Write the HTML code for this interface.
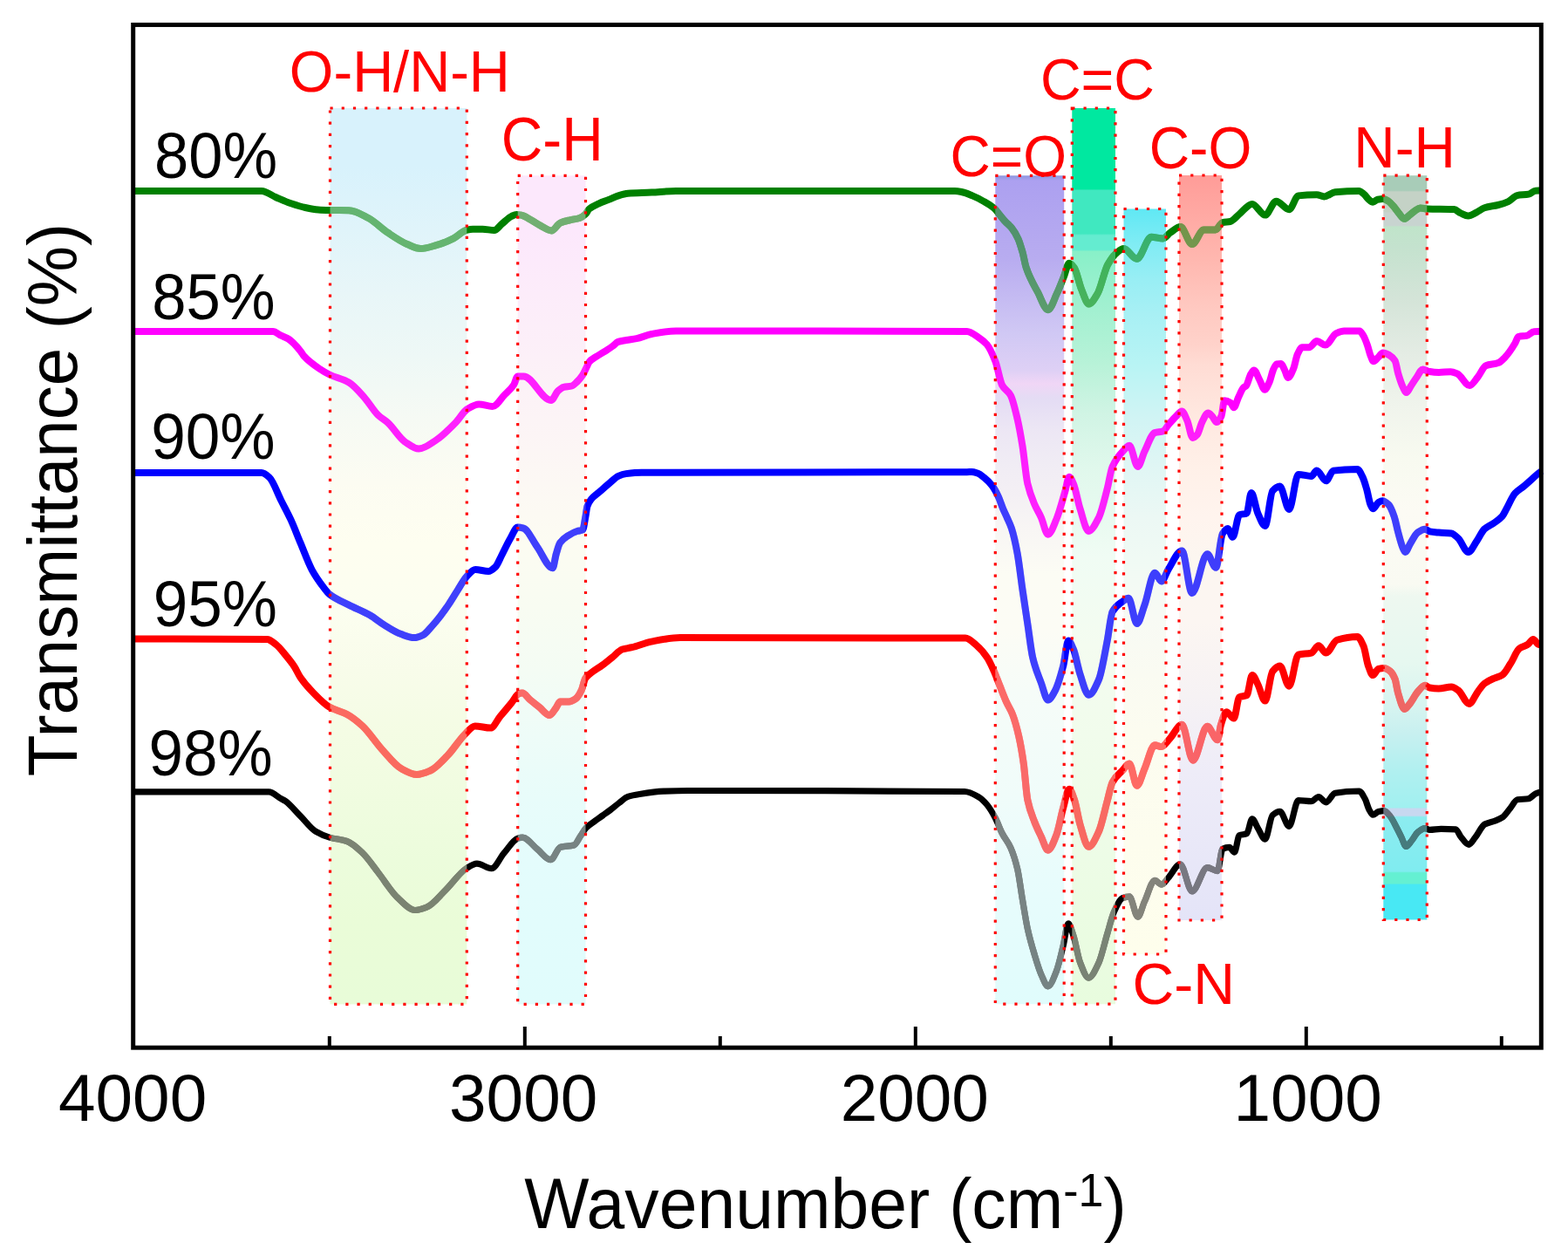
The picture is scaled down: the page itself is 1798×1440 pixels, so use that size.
<!DOCTYPE html><html><head><meta charset="utf-8"><title>FTIR spectra</title><style>html,body{margin:0;padding:0;background:#fff;overflow:hidden;}svg{display:block;}</style></head><body>
<svg width="1798" height="1440" viewBox="0 0 1798 1440" font-family='"Liberation Sans", Arial, sans-serif'>
<defs>
<linearGradient id="g_oh" x1="0" y1="0" x2="0" y2="1"><stop offset="0" stop-color="rgb(216,242,252)"/><stop offset="0.066" stop-color="rgb(216,242,252)"/><stop offset="0.136" stop-color="rgb(224,244,250)"/><stop offset="0.207" stop-color="rgb(232,246,248)"/><stop offset="0.277" stop-color="rgb(238,248,246)"/><stop offset="0.347" stop-color="rgb(246,250,244)"/><stop offset="0.417" stop-color="rgb(252,252,242)"/><stop offset="0.487" stop-color="rgb(254,254,240)"/><stop offset="0.558" stop-color="rgb(252,254,240)"/><stop offset="0.628" stop-color="rgb(248,252,234)"/><stop offset="0.698" stop-color="rgb(244,252,228)"/><stop offset="0.768" stop-color="rgb(240,252,224)"/><stop offset="0.838" stop-color="rgb(236,252,220)"/><stop offset="0.909" stop-color="rgb(234,252,216)"/><stop offset="1" stop-color="rgb(232,252,216)"/></linearGradient>
<linearGradient id="g_ch" x1="0" y1="0" x2="0" y2="1"><stop offset="0" stop-color="rgb(252,232,252)"/><stop offset="0.066" stop-color="rgb(252,232,252)"/><stop offset="0.143" stop-color="rgb(252,236,250)"/><stop offset="0.219" stop-color="rgb(252,240,248)"/><stop offset="0.295" stop-color="rgb(252,244,246)"/><stop offset="0.371" stop-color="rgb(252,248,244)"/><stop offset="0.446" stop-color="rgb(252,252,242)"/><stop offset="0.523" stop-color="rgb(248,252,242)"/><stop offset="0.599" stop-color="rgb(244,252,244)"/><stop offset="0.675" stop-color="rgb(238,252,248)"/><stop offset="0.751" stop-color="rgb(232,252,250)"/><stop offset="0.827" stop-color="rgb(228,252,252)"/><stop offset="0.903" stop-color="rgb(226,252,252)"/><stop offset="1" stop-color="rgb(224,252,252)"/></linearGradient>
<linearGradient id="g_co1" x1="0" y1="0" x2="0" y2="1"><stop offset="0" stop-color="rgb(140,150,222)"/><stop offset="0.006" stop-color="rgb(172,160,240)"/><stop offset="0.1" stop-color="rgb(184,172,240)"/><stop offset="0.19" stop-color="rgb(208,200,244)"/><stop offset="0.235" stop-color="rgb(222,208,245)"/><stop offset="0.251" stop-color="rgb(240,214,246)"/><stop offset="0.269" stop-color="rgb(228,220,244)"/><stop offset="0.305" stop-color="rgb(236,230,244)"/><stop offset="0.346" stop-color="rgb(240,236,244)"/><stop offset="0.387" stop-color="rgb(244,240,244)"/><stop offset="0.428" stop-color="rgb(248,246,244)"/><stop offset="0.48" stop-color="rgb(252,252,244)"/><stop offset="0.55" stop-color="rgb(252,252,245)"/><stop offset="0.62" stop-color="rgb(246,252,248)"/><stop offset="0.75" stop-color="rgb(240,252,250)"/><stop offset="0.85" stop-color="rgb(232,252,252)"/><stop offset="1" stop-color="rgb(224,252,252)"/></linearGradient>
<linearGradient id="g_cc" x1="0" y1="0" x2="0" y2="1"><stop offset="0" stop-color="rgb(0,232,160)"/><stop offset="0.09" stop-color="rgb(0,232,160)"/><stop offset="0.092" stop-color="rgb(64,232,192)"/><stop offset="0.14" stop-color="rgb(64,232,192)"/><stop offset="0.142" stop-color="rgb(100,236,208)"/><stop offset="0.158" stop-color="rgb(100,236,208)"/><stop offset="0.16" stop-color="rgb(136,240,200)"/><stop offset="0.218" stop-color="rgb(160,240,208)"/><stop offset="0.286" stop-color="rgb(184,242,216)"/><stop offset="0.34" stop-color="rgb(208,244,228)"/><stop offset="0.4" stop-color="rgb(224,248,236)"/><stop offset="0.457" stop-color="rgb(232,250,240)"/><stop offset="0.5" stop-color="rgb(240,252,244)"/><stop offset="0.6" stop-color="rgb(244,252,240)"/><stop offset="0.8" stop-color="rgb(238,252,232)"/><stop offset="1" stop-color="rgb(232,252,222)"/></linearGradient>
<linearGradient id="g_cn" x1="0" y1="0" x2="0" y2="1"><stop offset="0" stop-color="rgb(96,232,244)"/><stop offset="0.047" stop-color="rgb(128,236,244)"/><stop offset="0.094" stop-color="rgb(152,238,244)"/><stop offset="0.141" stop-color="rgb(168,240,244)"/><stop offset="0.209" stop-color="rgb(184,244,244)"/><stop offset="0.278" stop-color="rgb(208,244,244)"/><stop offset="0.346" stop-color="rgb(224,246,244)"/><stop offset="0.414" stop-color="rgb(236,248,244)"/><stop offset="0.469" stop-color="rgb(240,250,244)"/><stop offset="0.55" stop-color="rgb(248,250,244)"/><stop offset="0.7" stop-color="rgb(252,252,240)"/><stop offset="1" stop-color="rgb(254,254,236)"/></linearGradient>
<linearGradient id="g_co2" x1="0" y1="0" x2="0" y2="1"><stop offset="0" stop-color="rgb(255,156,152)"/><stop offset="0.057" stop-color="rgb(255,170,164)"/><stop offset="0.116" stop-color="rgb(255,184,176)"/><stop offset="0.174" stop-color="rgb(255,200,192)"/><stop offset="0.227" stop-color="rgb(255,210,202)"/><stop offset="0.254" stop-color="rgb(255,220,212)"/><stop offset="0.323" stop-color="rgb(255,232,224)"/><stop offset="0.391" stop-color="rgb(255,240,232)"/><stop offset="0.459" stop-color="rgb(255,244,238)"/><stop offset="0.514" stop-color="rgb(252,246,240)"/><stop offset="0.6" stop-color="rgb(252,246,242)"/><stop offset="0.7" stop-color="rgb(246,242,244)"/><stop offset="0.8" stop-color="rgb(238,236,248)"/><stop offset="1" stop-color="rgb(228,228,248)"/></linearGradient>
<linearGradient id="g_nh" x1="0" y1="0" x2="0" y2="1"><stop offset="0" stop-color="rgb(168,204,184)"/><stop offset="0.02" stop-color="rgb(168,204,184)"/><stop offset="0.022" stop-color="rgb(196,210,198)"/><stop offset="0.049" stop-color="rgb(196,210,198)"/><stop offset="0.05" stop-color="rgb(200,212,208)"/><stop offset="0.067" stop-color="rgb(200,212,208)"/><stop offset="0.069" stop-color="rgb(192,228,202)"/><stop offset="0.095" stop-color="rgb(196,226,206)"/><stop offset="0.166" stop-color="rgb(212,228,216)"/><stop offset="0.238" stop-color="rgb(228,236,228)"/><stop offset="0.31" stop-color="rgb(240,244,236)"/><stop offset="0.381" stop-color="rgb(248,250,240)"/><stop offset="0.453" stop-color="rgb(252,251,244)"/><stop offset="0.55" stop-color="rgb(249,250,242)"/><stop offset="0.565" stop-color="rgb(238,248,240)"/><stop offset="0.655" stop-color="rgb(230,248,240)"/><stop offset="0.714" stop-color="rgb(214,244,240)"/><stop offset="0.749" stop-color="rgb(200,240,240)"/><stop offset="0.801" stop-color="rgb(176,240,240)"/><stop offset="0.839" stop-color="rgb(164,240,240)"/><stop offset="0.849" stop-color="rgb(160,240,240)"/><stop offset="0.851" stop-color="rgb(200,216,240)"/><stop offset="0.86" stop-color="rgb(200,216,240)"/><stop offset="0.862" stop-color="rgb(140,236,240)"/><stop offset="0.935" stop-color="rgb(128,236,240)"/><stop offset="0.937" stop-color="rgb(100,240,210)"/><stop offset="0.951" stop-color="rgb(100,240,210)"/><stop offset="0.953" stop-color="rgb(72,232,244)"/><stop offset="1" stop-color="rgb(72,232,244)"/></linearGradient>
</defs>
<rect width="1798" height="1440" fill="#fff"/>
<rect x="378.5" y="124.0" width="156.8" height="1027.4" fill="url(#g_oh)"/>
<rect x="593.7" y="201.3" width="77.8" height="950.1" fill="url(#g_ch)"/>
<rect x="1141.3" y="201.3" width="78.9" height="949.9" fill="url(#g_co1)"/>
<rect x="1229.3" y="124.0" width="49.7" height="1027.2" fill="url(#g_cc)"/>
<rect x="1288.5" y="239.5" width="48.5" height="854.5" fill="url(#g_cn)"/>
<rect x="1352.0" y="201.0" width="49.0" height="854.0" fill="url(#g_co2)"/>
<rect x="1586.3" y="201.2" width="50.0" height="853.3" fill="url(#g_nh)"/>
<defs>
<path id="c_green" d="M153.0,219.0 C202.0,219.0 251.0,219.0 300.0,219.0 C305.3,219.0 310.7,223.7 316.0,226.0 C321.7,228.4 327.3,231.1 333.0,233.0 C338.7,234.9 344.3,236.8 350.0,238.0 C355.0,239.1 360.0,240.2 365.0,240.5 C369.3,240.8 373.7,240.9 378.0,241.0 C385.3,241.1 392.7,241.1 400.0,241.2 C407.5,241.3 414.9,246.1 422.4,250.0 C429.8,253.8 437.2,261.8 444.6,266.7 C452.0,271.6 459.5,276.9 466.9,280.0 C472.1,282.1 477.2,285.0 482.4,285.0 C488.3,285.0 494.3,282.8 500.2,281.2 C506.8,279.4 513.4,276.7 520.0,273.4 C524.8,271.0 529.7,265.1 534.5,264.0 C537.1,263.4 539.6,262.8 542.2,262.8 C545.9,262.8 549.7,262.8 553.4,262.8 C557.8,262.8 562.3,264.0 566.7,264.0 C569.7,264.0 572.6,259.1 575.6,256.7 C579.3,253.7 583.0,249.4 586.7,247.8 C588.6,247.0 590.4,246.1 592.3,246.1 C594.2,246.1 596.0,246.4 597.9,246.7 C601.6,247.3 605.3,250.3 609.0,252.3 C612.7,254.3 616.4,257.0 620.1,258.9 C624.2,261.0 628.2,264.5 632.3,264.5 C635.7,264.5 639.0,257.1 642.4,255.6 C646.1,253.9 649.8,253.2 653.5,252.3 C657.2,251.4 660.9,251.2 664.6,250.0 C666.8,249.3 669.1,247.6 671.3,245.6 C672.8,244.3 674.2,240.7 675.7,239.5 C679.4,236.4 683.1,235.0 686.8,233.3 C690.5,231.6 694.3,230.4 698.0,228.9 C701.7,227.4 705.4,225.5 709.1,224.4 C712.7,223.3 716.4,222.1 720.0,221.8 C729.1,221.1 738.2,221.1 747.3,220.6 C756.6,220.1 765.8,219.0 775.1,219.0 C881.7,219.0 988.4,219.0 1095.0,219.0 C1097.5,219.0 1100.0,219.5 1102.5,220.0 C1106.7,220.8 1110.8,222.7 1115.0,224.4 C1119.2,226.1 1123.3,228.2 1127.5,230.6 C1131.7,233.0 1135.8,235.2 1140.0,238.8 C1142.1,240.6 1144.2,243.8 1146.3,246.3 C1148.4,248.8 1150.4,251.5 1152.5,253.8 C1155.0,256.5 1157.5,258.2 1160.0,261.3 C1162.5,264.4 1165.0,268.3 1167.5,273.8 C1169.2,277.5 1170.8,283.1 1172.5,289.0 C1173.9,294.0 1175.3,302.6 1176.7,306.8 C1181.2,320.2 1185.6,326.8 1190.1,335.2 C1194.0,342.6 1197.9,355.2 1201.8,355.2 C1205.1,355.2 1208.5,343.8 1211.8,336.8 C1214.6,331.0 1217.3,323.7 1220.1,316.8 C1222.1,311.9 1224.0,301.8 1226.0,301.8 C1227.9,301.8 1229.9,304.3 1231.8,306.8 C1234.6,310.4 1237.3,325.2 1240.1,331.8 C1242.9,338.5 1245.7,348.5 1248.5,348.5 C1251.8,348.5 1255.2,342.3 1258.5,336.8 C1262.4,330.4 1266.3,310.5 1270.2,303.5 C1273.5,297.5 1276.9,292.8 1280.2,290.1 C1283.0,287.8 1285.7,285.1 1288.5,285.1 C1293.5,285.1 1298.5,296.8 1303.5,296.8 C1309.1,296.8 1314.6,271.8 1320.2,271.8 C1324.7,271.8 1329.1,273.4 1333.6,273.4 C1336.4,273.4 1339.1,268.7 1341.9,266.8 C1345.8,264.2 1349.7,260.1 1353.6,260.1 C1358.1,260.1 1362.5,280.1 1367.0,280.1 C1371.4,280.1 1375.9,263.4 1380.3,263.4 C1384.8,263.4 1389.2,263.4 1393.7,263.4 C1396.5,263.4 1399.2,255.7 1402.0,255.1 C1404.9,254.4 1407.7,254.6 1410.6,254.0 C1414.1,253.2 1417.6,248.3 1421.1,245.5 C1426.0,241.6 1431.0,233.9 1435.9,233.9 C1440.8,233.9 1445.8,246.6 1450.7,246.6 C1454.9,246.6 1459.2,230.7 1463.4,230.7 C1468.3,230.7 1473.3,240.2 1478.2,240.2 C1481.7,240.2 1485.3,224.8 1488.8,224.4 C1495.8,223.6 1502.9,223.3 1509.9,223.3 C1512.7,223.3 1515.6,225.4 1518.4,225.4 C1522.6,225.4 1526.8,220.6 1531.0,220.2 C1540.1,219.4 1549.2,219.0 1558.3,219.0 C1560.4,219.0 1562.4,221.3 1564.5,223.0 C1566.1,224.4 1567.8,227.4 1569.4,228.7 C1571.0,230.0 1572.7,231.8 1574.3,231.8 C1576.1,231.8 1578.0,229.0 1579.8,228.7 C1581.8,228.4 1583.9,228.1 1585.9,228.1 C1587.9,228.1 1590.0,229.4 1592.0,230.6 C1594.0,231.8 1596.1,234.4 1598.1,236.7 C1600.1,239.0 1602.2,242.3 1604.2,244.6 C1606.2,246.9 1608.3,250.8 1610.3,250.8 C1612.4,250.8 1614.4,248.0 1616.5,246.5 C1618.5,245.0 1620.6,242.9 1622.6,241.6 C1624.6,240.3 1626.7,238.5 1628.7,238.5 C1631.4,238.5 1634.0,239.4 1636.7,239.5 C1646.9,239.9 1657.1,239.6 1667.3,240.1 C1669.9,240.2 1672.4,243.3 1675.0,244.4 C1677.9,245.7 1680.7,247.5 1683.6,247.5 C1686.7,247.5 1689.8,245.1 1692.9,243.6 C1696.0,242.1 1699.2,239.2 1702.3,238.2 C1707.5,236.6 1712.7,236.3 1717.9,235.0 C1721.8,234.0 1725.6,232.9 1729.5,231.1 C1732.9,229.6 1736.3,224.8 1739.7,224.1 C1744.1,223.2 1748.5,223.5 1752.9,222.6 C1755.5,222.1 1758.1,218.8 1760.7,218.7 C1763.1,218.6 1765.6,218.6 1768.0,218.5"/>
<path id="c_magenta" d="M153.0,380.0 C206.3,380.0 259.7,380.0 313.0,380.0 C316.1,380.0 319.1,383.2 322.2,384.7 C325.0,386.0 327.8,386.8 330.6,388.5 C335.2,391.3 339.9,396.7 344.5,402.4 C345.9,404.1 347.2,406.8 348.6,408.3 C354.6,415.0 360.7,419.0 366.7,423.0 C370.4,425.5 374.2,427.7 377.9,429.5 C385.3,433.1 392.7,434.2 400.1,438.5 C406.0,441.9 412.0,449.2 417.9,455.8 C423.1,461.6 428.3,470.9 433.5,475.9 C437.2,479.4 440.9,481.2 444.6,484.5 C451.3,490.5 457.9,502.2 464.6,506.7 C469.8,510.2 475.0,514.5 480.2,514.5 C486.9,514.5 493.5,508.8 500.2,504.5 C507.6,499.8 515.1,492.1 522.5,484.5 C526.9,480.0 531.4,471.7 535.8,469.0 C540.3,466.3 544.7,463.4 549.2,463.4 C554.4,463.4 559.5,466.0 564.7,466.0 C569.2,466.0 573.6,457.9 578.1,453.3 C581.8,449.5 585.5,446.7 589.2,441.1 C590.7,438.8 592.2,431.4 593.7,431.4 C595.9,431.4 598.1,431.4 600.3,431.4 C610.8,431.4 621.4,459.0 631.9,459.0 C634.6,459.0 637.3,450.4 640.0,448.0 C642.1,446.1 644.2,444.3 646.3,443.8 C649.4,443.1 652.5,443.3 655.6,442.5 C657.7,442.0 659.8,439.5 661.9,437.5 C664.0,435.5 666.0,433.1 668.1,430.0 C669.8,427.5 671.4,423.3 673.1,420.0 C673.9,418.3 674.8,416.0 675.6,415.0 C678.3,411.7 681.1,410.7 683.8,408.8 C686.9,406.7 690.0,405.1 693.1,403.1 C696.2,401.1 699.4,399.2 702.5,396.9 C704.6,395.4 706.7,392.6 708.8,391.9 C711.9,390.9 715.0,390.6 718.1,390.0 C722.1,389.3 726.0,388.9 730.0,388.1 C735.8,386.9 741.5,384.1 747.3,383.0 C756.6,381.3 765.8,379.5 775.1,379.5 C886.3,379.5 997.6,379.5 1108.8,380.0 C1113.4,380.0 1118.1,384.3 1122.7,387.4 C1125.7,389.4 1128.7,391.5 1131.7,395.0 C1134.9,398.8 1138.2,406.1 1141.4,414.4 C1144.0,421.1 1146.6,437.0 1149.2,441.7 C1152.4,447.6 1155.7,447.4 1158.9,453.3 C1161.5,458.0 1164.1,469.5 1166.7,480.6 C1168.6,488.9 1170.6,499.7 1172.5,511.7 C1174.4,523.7 1176.4,546.0 1178.3,554.4 C1180.9,565.7 1183.5,571.6 1186.1,577.8 C1188.7,584.0 1191.3,587.5 1193.9,593.3 C1196.5,599.1 1199.1,612.8 1201.7,612.8 C1204.9,612.8 1208.2,602.8 1211.4,595.3 C1214.6,587.8 1217.9,575.2 1221.1,564.2 C1222.7,558.6 1224.4,546.7 1226.0,546.7 C1227.6,546.7 1229.2,550.9 1230.8,554.4 C1233.4,560.1 1236.0,575.6 1238.6,583.6 C1241.8,593.6 1245.1,608.9 1248.3,608.9 C1252.2,608.9 1256.1,600.9 1260.0,593.3 C1263.2,587.0 1266.5,572.7 1269.7,560.3 C1271.7,552.8 1273.6,539.5 1275.6,535.0 C1280.1,524.6 1284.7,520.3 1289.2,515.6 C1291.1,513.6 1293.1,510.7 1295.0,510.7 C1298.2,510.7 1301.5,535.0 1304.7,535.0 C1307.3,535.0 1309.9,522.8 1312.5,517.5 C1316.4,509.6 1320.3,497.4 1324.2,496.1 C1327.4,495.0 1330.7,495.4 1333.9,494.2 C1335.9,493.5 1338.0,489.1 1340.0,486.7 C1343.0,483.3 1345.9,479.9 1348.9,477.0 C1351.0,475.0 1353.0,471.6 1355.1,471.6 C1357.2,471.6 1359.3,477.7 1361.4,482.3 C1363.5,486.9 1365.5,501.9 1367.6,501.9 C1369.4,501.9 1371.1,500.2 1372.9,498.3 C1374.7,496.4 1376.5,487.6 1378.3,484.1 C1380.7,479.5 1383.0,473.4 1385.4,473.4 C1386.9,473.4 1388.3,475.5 1389.8,477.0 C1391.6,478.8 1393.4,484.1 1395.2,484.1 C1397.0,484.1 1398.7,480.9 1400.5,477.0 C1401.7,474.4 1402.9,459.2 1404.1,459.2 C1406.5,459.2 1408.8,460.3 1411.2,461.8 C1412.4,462.6 1413.6,467.2 1414.8,467.2 C1416.6,467.2 1418.3,459.3 1420.1,455.6 C1421.9,451.9 1423.6,446.8 1425.4,444.9 C1426.6,443.6 1427.8,443.5 1429.0,442.2 C1430.8,440.2 1432.5,431.8 1434.3,428.9 C1435.5,426.9 1436.7,424.4 1437.9,424.4 C1440.0,424.4 1442.0,431.4 1444.1,435.1 C1446.2,438.8 1448.2,446.7 1450.3,446.7 C1452.1,446.7 1453.9,441.8 1455.7,437.8 C1457.1,434.6 1458.6,427.1 1460.0,424.0 C1461.3,421.1 1462.7,417.8 1464.0,417.5 C1465.7,417.2 1467.3,417.0 1469.0,417.0 C1470.3,417.0 1471.7,421.4 1473.0,424.0 C1474.4,426.7 1475.7,433.0 1477.1,433.0 C1479.2,433.0 1481.2,427.2 1483.3,422.3 C1484.8,418.7 1486.3,409.5 1487.8,406.3 C1489.6,402.5 1491.3,398.3 1493.1,398.3 C1495.8,398.3 1498.4,398.3 1501.1,398.3 C1504.1,398.3 1507.0,391.1 1510.0,391.1 C1513.3,391.1 1516.5,395.6 1519.8,395.6 C1524.0,395.6 1528.1,384.1 1532.3,382.2 C1535.3,380.9 1538.2,379.6 1541.2,379.6 C1547.1,379.6 1553.1,379.6 1559.0,379.6 C1560.5,379.6 1561.9,382.6 1563.4,384.9 C1564.9,387.3 1566.4,391.4 1567.9,395.6 C1569.1,398.9 1570.2,404.3 1571.4,407.2 C1572.6,410.2 1573.8,414.3 1575.0,414.3 C1576.8,414.3 1578.5,411.4 1580.3,409.8 C1582.1,408.2 1583.9,404.5 1585.7,404.5 C1588.3,404.5 1590.9,406.0 1593.5,407.4 C1595.5,408.5 1597.6,410.1 1599.6,413.5 C1600.9,415.6 1602.1,424.6 1603.4,428.8 C1605.2,434.8 1607.0,440.4 1608.8,444.0 C1610.1,446.5 1611.3,450.1 1612.6,450.1 C1614.4,450.1 1616.1,445.1 1617.9,442.5 C1619.9,439.5 1622.0,436.1 1624.0,433.3 C1626.6,429.7 1629.1,423.4 1631.7,423.4 C1633.7,423.4 1635.8,425.3 1637.8,425.7 C1641.9,426.4 1645.9,427.0 1650.0,427.0 C1654.5,427.0 1658.9,426.2 1663.4,426.2 C1666.0,426.2 1668.5,427.4 1671.1,428.5 C1675.8,430.5 1680.5,442.0 1685.2,442.0 C1688.3,442.0 1691.4,436.1 1694.5,432.4 C1697.6,428.7 1700.7,420.4 1703.8,419.2 C1708.5,417.3 1713.2,417.8 1717.9,416.1 C1720.5,415.2 1723.0,412.4 1725.6,409.8 C1729.5,405.8 1733.4,400.0 1737.3,393.5 C1738.6,391.3 1739.9,386.3 1741.2,386.0 C1744.3,385.2 1747.5,385.5 1750.6,384.9 C1753.4,384.3 1756.3,380.3 1759.1,380.2 C1762.1,380.1 1765.0,380.1 1768.0,380.0"/>
<path id="c_blue" d="M153.0,542.0 C202.0,542.0 251.0,542.0 300.0,542.0 C303.0,542.0 305.9,544.7 308.9,547.4 C313.3,551.4 317.8,564.8 322.2,573.5 C325.9,580.9 329.7,587.6 333.4,595.7 C337.1,603.7 340.8,613.6 344.5,622.4 C348.9,632.9 353.4,645.5 357.8,653.6 C362.3,661.8 366.7,667.8 371.2,673.6 C373.4,676.5 375.7,679.6 377.9,681.4 C385.3,687.3 392.7,689.8 400.1,693.6 C408.3,697.8 416.4,700.8 424.6,705.5 C429.7,708.5 434.9,712.9 440.0,716.1 C446.7,720.2 453.3,724.7 460.0,727.1 C465.0,728.9 470.0,731.1 475.0,731.1 C478.3,731.1 481.7,729.6 485.0,728.1 C488.4,726.6 491.7,721.8 495.1,718.1 C498.4,714.5 501.8,710.4 505.1,706.1 C508.4,701.8 511.8,697.1 515.1,692.1 C518.4,687.1 521.8,681.3 525.1,676.1 C528.4,670.9 531.8,664.5 535.1,661.0 C538.4,657.5 541.8,653.0 545.1,653.0 C550.1,653.0 555.1,655.0 560.1,655.0 C562.8,655.0 565.4,652.5 568.1,650.0 C570.4,647.8 572.8,641.4 575.1,637.0 C578.3,630.8 581.6,623.5 584.8,618.0 C587.8,613.0 590.7,604.6 593.7,604.6 C595.9,604.6 598.1,605.1 600.3,605.7 C605.5,607.1 610.7,619.8 615.9,626.9 C621.8,635.0 627.8,651.3 633.7,651.3 C635.1,651.3 636.4,639.6 637.8,635.0 C639.3,630.1 640.7,624.4 642.2,622.3 C645.2,618.0 648.1,616.2 651.1,614.3 C654.7,612.0 658.2,610.1 661.8,609.0 C663.9,608.3 666.0,608.5 668.1,607.5 C669.3,606.9 670.4,597.4 671.6,591.2 C672.2,588.0 672.8,582.3 673.4,580.5 C674.9,576.1 676.3,574.3 677.8,572.5 C680.8,568.8 683.7,567.1 686.7,564.5 C691.2,560.6 695.6,556.6 700.1,552.9 C703.1,550.4 706.0,547.1 709.0,545.8 C712.0,544.5 714.9,543.5 717.9,543.1 C723.8,542.4 729.8,541.8 735.7,541.8 C860.1,541.2 984.4,541.7 1108.8,541.2 C1110.6,541.2 1112.4,541.0 1114.2,541.0 C1116.5,541.0 1118.7,541.8 1121.0,542.5 C1123.5,543.3 1126.1,545.6 1128.6,547.7 C1131.6,550.1 1134.6,552.9 1137.6,556.8 C1140.0,559.9 1142.4,564.3 1144.8,569.4 C1146.5,573.1 1148.3,578.9 1150.0,583.0 C1151.7,587.0 1153.3,590.2 1155.0,594.0 C1156.7,597.8 1158.3,600.9 1160.0,606.0 C1162.2,612.8 1164.5,622.9 1166.7,635.0 C1168.6,645.5 1170.6,662.8 1172.5,676.1 C1174.4,689.4 1176.4,702.1 1178.3,715.0 C1180.3,728.1 1182.2,745.5 1184.2,753.9 C1187.4,767.7 1190.7,774.2 1193.9,783.0 C1196.5,790.1 1199.1,802.5 1201.7,802.5 C1204.3,802.5 1206.8,797.3 1209.4,792.8 C1212.7,787.1 1215.9,776.1 1219.2,763.6 C1221.1,756.2 1223.1,734.4 1225.0,734.4 C1226.9,734.4 1228.9,739.8 1230.8,744.2 C1233.4,750.1 1236.0,765.6 1238.6,773.3 C1241.8,782.8 1245.1,796.7 1248.3,796.7 C1252.2,796.7 1256.1,788.2 1260.0,779.2 C1263.2,771.8 1266.5,750.9 1269.7,734.4 C1271.7,724.4 1273.6,705.0 1275.6,701.4 C1279.5,694.3 1283.3,692.5 1287.2,689.7 C1289.5,688.1 1291.7,685.8 1294.0,685.8 C1297.2,685.8 1300.5,715.0 1303.7,715.0 C1306.6,715.0 1309.6,701.6 1312.5,693.6 C1316.4,683.0 1320.3,656.7 1324.2,656.7 C1326.8,656.7 1329.3,666.4 1331.9,666.4 C1334.5,666.4 1337.1,656.8 1339.7,652.8 C1344.9,644.7 1350.1,631.4 1355.3,631.4 C1359.2,631.4 1363.0,680.0 1366.9,680.0 C1372.7,680.0 1378.6,635.3 1384.4,635.3 C1387.7,635.3 1390.9,650.8 1394.2,650.8 C1396.8,650.8 1399.3,616.0 1401.9,611.9 C1403.9,608.8 1405.8,606.1 1407.8,606.1 C1409.7,606.1 1411.7,615.8 1413.6,615.8 C1416.1,615.8 1418.6,591.6 1421.1,590.4 C1423.9,589.1 1426.8,589.7 1429.6,588.3 C1431.4,587.4 1433.1,565.0 1434.9,565.0 C1437.4,565.0 1439.8,582.7 1442.3,588.3 C1445.1,594.6 1447.9,603.0 1450.7,603.0 C1453.5,603.0 1456.4,566.0 1459.2,562.9 C1462.0,559.8 1464.8,557.6 1467.6,557.6 C1471.1,557.6 1474.7,584.0 1478.2,584.0 C1481.7,584.0 1485.3,543.9 1488.8,543.9 C1493.7,543.9 1498.7,546.0 1503.6,546.0 C1505.7,546.0 1507.8,539.6 1509.9,539.6 C1513.4,539.6 1517.0,551.3 1520.5,551.3 C1523.3,551.3 1526.1,540.0 1528.9,539.6 C1538.1,538.4 1547.2,538.0 1556.4,538.0 C1558.5,538.0 1560.5,542.9 1562.6,547.1 C1564.1,550.1 1565.6,555.5 1567.1,560.7 C1568.6,565.9 1570.1,575.3 1571.6,578.7 C1572.5,580.7 1573.4,583.2 1574.3,583.2 C1576.4,583.2 1578.6,577.2 1580.7,576.0 C1582.2,575.1 1583.7,574.2 1585.2,574.2 C1587.6,574.2 1590.0,576.3 1592.4,578.7 C1594.5,580.8 1596.6,586.3 1598.7,592.3 C1600.2,596.6 1601.7,604.9 1603.2,610.3 C1605.0,616.9 1606.9,624.5 1608.7,628.4 C1609.6,630.3 1610.5,632.9 1611.4,632.9 C1613.2,632.9 1615.0,626.8 1616.8,623.9 C1619.8,619.1 1622.8,612.3 1625.8,610.3 C1628.5,608.5 1631.3,606.7 1634.0,606.7 C1635.8,606.7 1637.6,609.0 1639.4,609.4 C1642.8,610.1 1646.3,610.3 1649.7,610.6 C1654.6,611.0 1659.4,610.9 1664.3,611.4 C1666.9,611.7 1669.5,614.7 1672.1,617.2 C1676.0,620.8 1679.8,633.0 1683.7,633.0 C1687.0,633.0 1690.2,624.8 1693.5,620.1 C1696.4,615.9 1699.3,609.2 1702.2,606.5 C1705.8,603.2 1709.3,602.2 1712.9,599.7 C1716.1,597.4 1719.4,595.6 1722.6,591.9 C1724.2,590.0 1725.9,586.1 1727.5,583.2 C1730.7,577.4 1734.0,569.3 1737.2,565.7 C1740.4,562.1 1743.7,560.6 1746.9,557.9 C1750.2,555.1 1753.4,552.1 1756.7,549.2 C1759.3,546.9 1761.8,544.3 1764.4,542.4 C1765.6,541.5 1766.8,540.8 1768.0,540.0"/>
<path id="c_red" d="M153.0,732.5 C204.1,732.6 255.2,732.5 306.3,732.9 C309.8,732.9 313.2,736.5 316.7,739.2 C320.0,741.8 323.4,746.1 326.7,750.1 C330.3,754.4 333.9,758.7 337.5,764.2 C339.8,767.8 342.2,773.4 344.5,776.8 C349.1,783.6 353.7,788.6 358.3,793.3 C364.7,799.9 371.1,806.8 377.5,810.5 C384.3,814.4 391.1,815.3 397.9,819.0 C403.8,822.2 409.8,827.0 415.7,832.4 C423.1,839.2 430.5,851.0 437.9,859.1 C445.3,867.2 452.8,877.3 460.2,881.3 C466.1,884.5 472.1,888.0 478.0,888.0 C483.2,888.0 488.3,885.7 493.5,883.5 C500.2,880.6 506.9,872.6 513.6,865.7 C520.3,858.9 526.9,847.6 533.6,841.3 C537.3,837.8 541.0,832.4 544.7,832.4 C550.6,832.4 556.6,834.6 562.5,834.6 C566.2,834.6 569.9,825.7 573.6,821.3 C578.0,816.1 582.3,811.0 586.7,805.6 C589.3,802.4 591.9,796.6 594.5,795.6 C596.0,795.0 597.4,794.5 598.9,794.5 C601.9,794.5 604.8,799.8 607.8,802.3 C611.5,805.4 615.2,808.2 618.9,811.2 C622.6,814.2 626.4,820.1 630.1,820.1 C632.7,820.1 635.2,814.6 637.8,811.2 C639.3,809.2 640.8,804.5 642.3,804.5 C645.6,804.5 649.0,804.5 652.3,804.5 C654.9,804.5 657.5,802.9 660.1,801.2 C662.3,799.7 664.6,795.8 666.8,791.2 C668.3,788.2 669.7,780.0 671.2,777.8 C673.1,775.0 674.9,773.9 676.8,772.3 C681.6,768.3 686.4,765.9 691.2,762.3 C694.9,759.5 698.7,756.4 702.4,753.4 C706.1,750.4 709.8,745.7 713.5,744.5 C717.2,743.3 720.9,743.1 724.6,742.2 C732.0,740.4 739.5,737.0 746.9,735.6 C757.9,733.5 769.0,731.1 780.0,731.1 C889.0,731.1 998.0,731.1 1107.0,731.5 C1111.2,731.5 1115.4,736.2 1119.6,739.7 C1123.8,743.2 1128.0,747.9 1132.2,754.2 C1134.6,757.8 1137.0,763.3 1139.4,768.6 C1141.8,773.9 1144.2,780.6 1146.6,786.6 C1149.0,792.7 1151.5,799.3 1153.9,804.7 C1156.3,810.0 1158.7,813.0 1161.1,819.1 C1163.5,825.2 1165.9,833.9 1168.3,844.4 C1170.1,852.3 1171.9,862.3 1173.7,875.0 C1175.2,885.8 1176.8,909.5 1178.3,917.0 C1180.9,929.8 1183.5,934.9 1186.1,941.7 C1188.7,948.5 1191.3,953.7 1193.9,959.2 C1196.5,964.7 1199.1,974.7 1201.7,974.7 C1204.9,974.7 1208.2,965.3 1211.4,957.2 C1214.0,950.7 1216.6,935.2 1219.2,926.1 C1221.5,918.1 1223.7,904.7 1226.0,904.7 C1227.9,904.7 1229.9,911.1 1231.8,916.4 C1234.1,922.6 1236.3,938.2 1238.6,945.6 C1241.8,956.2 1245.1,970.8 1248.3,970.8 C1252.2,970.8 1256.1,961.7 1260.0,953.3 C1263.2,946.4 1266.5,930.0 1269.7,918.3 C1271.7,911.2 1273.6,900.6 1275.6,896.9 C1279.5,889.6 1283.3,887.4 1287.2,883.3 C1289.8,880.5 1292.4,875.6 1295.0,875.6 C1297.9,875.6 1300.8,900.8 1303.7,900.8 C1306.6,900.8 1309.6,888.0 1312.5,881.4 C1316.4,872.6 1320.3,854.2 1324.2,854.2 C1326.8,854.2 1329.3,856.1 1331.9,856.1 C1335.2,856.1 1338.4,849.9 1341.7,846.4 C1346.2,841.6 1350.8,830.8 1355.3,830.8 C1359.5,830.8 1363.7,871.7 1367.9,871.7 C1373.4,871.7 1378.9,832.8 1384.4,832.8 C1388.3,832.8 1392.2,848.3 1396.1,848.3 C1397.4,848.3 1398.7,835.1 1400.0,831.0 C1402.1,824.4 1404.2,816.2 1406.3,816.2 C1409.1,816.2 1412.0,823.6 1414.8,823.6 C1416.9,823.6 1419.0,800.3 1421.1,799.3 C1423.9,797.9 1426.8,798.6 1429.6,797.2 C1431.7,796.2 1433.8,774.0 1435.9,774.0 C1438.0,774.0 1440.2,780.5 1442.3,784.5 C1445.1,789.8 1447.9,803.6 1450.7,803.6 C1453.5,803.6 1456.4,773.3 1459.2,769.7 C1462.0,766.2 1464.8,763.4 1467.6,763.4 C1471.1,763.4 1474.7,786.7 1478.2,786.7 C1481.7,786.7 1485.3,751.7 1488.8,750.7 C1493.7,749.3 1498.7,749.9 1503.6,748.6 C1506.4,747.9 1509.2,740.2 1512.0,740.2 C1514.8,740.2 1517.7,748.6 1520.5,748.6 C1524.7,748.6 1528.9,735.1 1533.1,733.8 C1540.9,731.4 1548.6,730.0 1556.4,730.0 C1558.8,730.0 1561.1,735.3 1563.5,740.7 C1565.3,744.8 1567.1,758.3 1568.9,763.2 C1570.7,768.1 1572.5,774.1 1574.3,774.1 C1576.4,774.1 1578.6,767.3 1580.7,766.8 C1582.8,766.3 1584.9,765.9 1587.0,765.9 C1589.4,765.9 1591.8,767.7 1594.2,769.6 C1596.0,771.1 1597.8,774.1 1599.6,778.6 C1600.8,781.6 1602.0,790.8 1603.2,794.8 C1605.6,802.8 1608.1,812.9 1610.5,812.9 C1612.6,812.9 1614.7,809.1 1616.8,806.6 C1619.8,803.0 1622.8,796.3 1625.8,793.0 C1628.5,790.0 1631.3,785.8 1634.0,785.8 C1635.8,785.8 1637.6,788.2 1639.4,788.5 C1642.8,789.1 1646.3,789.4 1649.7,789.4 C1654.6,789.4 1659.4,787.5 1664.3,787.5 C1666.9,787.5 1669.5,789.6 1672.1,791.4 C1676.3,794.3 1680.5,806.9 1684.7,806.9 C1687.9,806.9 1691.2,797.6 1694.4,793.3 C1697.0,789.9 1699.6,785.6 1702.2,783.6 C1705.8,780.9 1709.3,779.4 1712.9,777.8 C1716.1,776.3 1719.4,775.9 1722.6,773.9 C1725.9,771.9 1729.1,765.3 1732.4,760.3 C1735.6,755.3 1738.9,746.2 1742.1,743.7 C1745.3,741.2 1748.6,741.0 1751.8,738.9 C1753.9,737.5 1756.0,733.0 1758.1,733.0 C1760.2,733.0 1762.3,738.8 1764.4,738.9 C1765.6,739.0 1766.8,739.0 1768.0,739.0"/>
<path id="c_black" d="M153.0,907.9 C204.8,907.9 256.5,907.9 308.3,907.9 C312.9,907.9 317.6,913.0 322.2,915.6 C323.8,916.5 325.4,917.2 327.0,918.3 C332.8,922.3 338.7,929.8 344.5,935.6 C350.4,941.5 356.4,949.9 362.3,953.4 C367.5,956.5 372.7,958.6 377.9,960.1 C384.6,962.1 391.2,962.2 397.9,964.5 C403.8,966.5 409.8,972.3 415.7,977.9 C421.6,983.5 427.6,992.5 433.5,1000.1 C440.9,1009.5 448.3,1022.2 455.7,1029.0 C462.4,1035.2 469.1,1043.5 475.8,1043.5 C480.2,1043.5 484.7,1041.8 489.1,1040.2 C496.5,1037.4 503.9,1027.3 511.3,1020.1 C519.1,1012.5 526.9,1000.5 534.7,995.7 C538.8,993.2 542.8,990.1 546.9,990.1 C552.5,990.1 558.0,995.7 563.6,995.7 C568.4,995.7 573.3,983.4 578.1,977.9 C583.3,971.9 588.5,962.8 593.7,961.2 C595.5,960.6 597.4,960.1 599.2,960.1 C604.8,960.1 610.3,969.0 615.9,973.4 C621.1,977.5 626.3,985.7 631.5,985.7 C635.2,985.7 638.9,972.2 642.6,971.2 C647.8,969.8 653.0,970.5 658.2,969.0 C660.8,968.3 663.4,961.7 666.0,958.0 C668.1,955.0 670.1,951.1 672.2,949.0 C675.7,945.4 679.1,943.6 682.6,941.0 C685.6,938.8 688.7,936.7 691.7,934.5 C694.5,932.5 697.2,930.6 700.0,928.5 C703.3,926.0 706.7,923.0 710.0,920.5 C713.3,918.0 716.7,914.5 720.0,913.4 C724.5,911.9 728.9,911.2 733.4,910.5 C742.7,909.0 751.9,907.6 761.2,907.2 C770.5,906.8 779.7,906.5 789.0,906.5 C894.7,906.5 1000.3,906.6 1106.0,907.5 C1111.6,907.5 1117.1,910.9 1122.7,914.1 C1125.7,915.8 1128.7,919.0 1131.7,922.5 C1134.9,926.3 1138.2,931.9 1141.4,938.0 C1144.0,942.9 1146.6,950.4 1149.2,955.5 C1152.4,961.8 1155.7,964.8 1158.9,972.0 C1161.5,977.8 1164.1,985.5 1166.7,996.4 C1168.6,1004.5 1170.6,1020.3 1172.5,1031.7 C1174.4,1043.1 1176.4,1055.9 1178.3,1064.7 C1180.9,1076.6 1183.5,1085.3 1186.1,1093.9 C1188.7,1102.5 1191.3,1111.5 1193.9,1117.2 C1196.5,1122.9 1199.1,1130.8 1201.7,1130.8 C1204.9,1130.8 1208.2,1121.3 1211.4,1113.3 C1214.0,1106.9 1216.6,1094.7 1219.2,1084.2 C1221.1,1076.4 1223.1,1058.9 1225.0,1058.9 C1226.9,1058.9 1228.9,1066.9 1230.8,1072.5 C1233.4,1080.1 1236.0,1097.1 1238.6,1103.6 C1241.8,1111.7 1245.1,1121.1 1248.3,1121.1 C1252.2,1121.1 1256.1,1111.8 1260.0,1103.6 C1263.2,1096.8 1266.5,1081.3 1269.7,1070.6 C1272.3,1062.0 1274.9,1051.0 1277.5,1045.3 C1280.7,1038.3 1284.0,1031.0 1287.2,1029.7 C1289.8,1028.6 1292.4,1027.8 1295.0,1027.8 C1298.2,1027.8 1301.5,1051.1 1304.7,1051.1 C1307.3,1051.1 1309.9,1039.2 1312.5,1033.6 C1316.4,1025.2 1320.3,1009.3 1324.2,1009.3 C1326.8,1009.3 1329.3,1014.2 1331.9,1014.2 C1334.5,1014.2 1337.1,1009.2 1339.7,1006.4 C1344.2,1001.6 1348.8,990.8 1353.3,990.8 C1357.8,990.8 1362.4,1021.9 1366.9,1021.9 C1372.7,1021.9 1378.6,994.7 1384.4,994.7 C1388.3,994.7 1392.2,998.6 1396.1,998.6 C1398.0,998.6 1400.0,974.2 1401.9,973.3 C1404.5,972.0 1407.1,971.4 1409.7,971.4 C1411.6,971.4 1413.6,977.2 1415.5,977.2 C1417.4,977.2 1419.2,958.7 1421.1,957.8 C1423.9,956.4 1426.8,957.0 1429.6,955.7 C1431.7,954.7 1433.8,938.8 1435.9,938.8 C1438.0,938.8 1440.2,946.0 1442.3,949.4 C1445.1,953.8 1447.9,962.1 1450.7,962.1 C1453.5,962.1 1456.4,937.1 1459.2,934.6 C1462.0,932.2 1464.8,930.4 1467.6,930.4 C1471.1,930.4 1474.7,947.3 1478.2,947.3 C1481.7,947.3 1485.3,917.7 1488.8,917.7 C1493.7,917.7 1498.7,918.7 1503.6,918.7 C1506.4,918.7 1509.2,913.5 1512.0,913.5 C1514.8,913.5 1517.7,919.8 1520.5,919.8 C1524.0,919.8 1527.5,909.8 1531.0,909.2 C1540.2,907.6 1549.3,907.0 1558.5,907.0 C1560.8,907.0 1563.0,912.0 1565.3,916.1 C1566.8,918.8 1568.3,925.2 1569.8,927.9 C1571.3,930.6 1572.8,934.2 1574.3,934.2 C1576.4,934.2 1578.6,931.1 1580.7,930.6 C1582.8,930.1 1584.9,929.7 1587.0,929.7 C1589.4,929.7 1591.8,933.2 1594.2,936.0 C1596.6,938.8 1599.0,944.2 1601.4,948.7 C1603.2,952.1 1605.0,955.9 1606.8,959.5 C1608.6,963.1 1610.5,970.3 1612.3,970.3 C1614.4,970.3 1616.5,966.4 1618.6,964.0 C1621.0,961.2 1623.4,956.0 1625.8,954.1 C1628.5,951.9 1631.3,949.6 1634.0,949.6 C1635.8,949.6 1637.6,951.4 1639.4,951.4 C1643.8,951.4 1648.1,950.4 1652.5,950.4 C1658.1,950.4 1663.6,950.5 1669.2,950.8 C1671.1,950.9 1673.1,956.9 1675.0,959.2 C1678.1,962.9 1681.1,968.3 1684.2,968.3 C1686.7,968.3 1689.2,963.1 1691.7,960.0 C1695.3,955.6 1698.9,947.0 1702.5,945.0 C1706.7,942.7 1710.8,942.5 1715.0,940.8 C1717.8,939.7 1720.5,938.6 1723.3,936.7 C1726.1,934.7 1728.9,930.1 1731.7,926.7 C1734.5,923.4 1737.2,917.1 1740.0,916.7 C1744.2,916.1 1748.3,916.4 1752.5,915.8 C1755.3,915.4 1758.0,911.3 1760.8,910.0 C1763.2,908.9 1765.6,908.3 1768.0,907.5"/>
<linearGradient id="gu_oh" gradientUnits="userSpaceOnUse" x1="0" y1="124.0" x2="0" y2="1151.4"><stop offset="0" stop-color="rgb(216,242,252)"/><stop offset="0.066" stop-color="rgb(216,242,252)"/><stop offset="0.136" stop-color="rgb(224,244,250)"/><stop offset="0.207" stop-color="rgb(232,246,248)"/><stop offset="0.277" stop-color="rgb(238,248,246)"/><stop offset="0.347" stop-color="rgb(246,250,244)"/><stop offset="0.417" stop-color="rgb(252,252,242)"/><stop offset="0.487" stop-color="rgb(254,254,240)"/><stop offset="0.558" stop-color="rgb(252,254,240)"/><stop offset="0.628" stop-color="rgb(248,252,234)"/><stop offset="0.698" stop-color="rgb(244,252,228)"/><stop offset="0.768" stop-color="rgb(240,252,224)"/><stop offset="0.838" stop-color="rgb(236,252,220)"/><stop offset="0.909" stop-color="rgb(234,252,216)"/><stop offset="1" stop-color="rgb(232,252,216)"/></linearGradient>
<clipPath id="cl_oh"><rect x="378.5" y="124.0" width="156.8" height="1027.4"/></clipPath>
<linearGradient id="gu_ch" gradientUnits="userSpaceOnUse" x1="0" y1="201.3" x2="0" y2="1151.4"><stop offset="0" stop-color="rgb(252,232,252)"/><stop offset="0.066" stop-color="rgb(252,232,252)"/><stop offset="0.143" stop-color="rgb(252,236,250)"/><stop offset="0.219" stop-color="rgb(252,240,248)"/><stop offset="0.295" stop-color="rgb(252,244,246)"/><stop offset="0.371" stop-color="rgb(252,248,244)"/><stop offset="0.446" stop-color="rgb(252,252,242)"/><stop offset="0.523" stop-color="rgb(248,252,242)"/><stop offset="0.599" stop-color="rgb(244,252,244)"/><stop offset="0.675" stop-color="rgb(238,252,248)"/><stop offset="0.751" stop-color="rgb(232,252,250)"/><stop offset="0.827" stop-color="rgb(228,252,252)"/><stop offset="0.903" stop-color="rgb(226,252,252)"/><stop offset="1" stop-color="rgb(224,252,252)"/></linearGradient>
<clipPath id="cl_ch"><rect x="593.7" y="201.3" width="77.8" height="950.1"/></clipPath>
<linearGradient id="gu_co1" gradientUnits="userSpaceOnUse" x1="0" y1="201.3" x2="0" y2="1151.2"><stop offset="0" stop-color="rgb(140,150,222)"/><stop offset="0.006" stop-color="rgb(172,160,240)"/><stop offset="0.1" stop-color="rgb(184,172,240)"/><stop offset="0.19" stop-color="rgb(208,200,244)"/><stop offset="0.235" stop-color="rgb(222,208,245)"/><stop offset="0.251" stop-color="rgb(240,214,246)"/><stop offset="0.269" stop-color="rgb(228,220,244)"/><stop offset="0.305" stop-color="rgb(236,230,244)"/><stop offset="0.346" stop-color="rgb(240,236,244)"/><stop offset="0.387" stop-color="rgb(244,240,244)"/><stop offset="0.428" stop-color="rgb(248,246,244)"/><stop offset="0.48" stop-color="rgb(252,252,244)"/><stop offset="0.55" stop-color="rgb(252,252,245)"/><stop offset="0.62" stop-color="rgb(246,252,248)"/><stop offset="0.75" stop-color="rgb(240,252,250)"/><stop offset="0.85" stop-color="rgb(232,252,252)"/><stop offset="1" stop-color="rgb(224,252,252)"/></linearGradient>
<clipPath id="cl_co1"><rect x="1141.3" y="201.3" width="78.9" height="949.9"/></clipPath>
<linearGradient id="gu_cc" gradientUnits="userSpaceOnUse" x1="0" y1="124.0" x2="0" y2="1151.2"><stop offset="0" stop-color="rgb(0,232,160)"/><stop offset="0.09" stop-color="rgb(0,232,160)"/><stop offset="0.092" stop-color="rgb(64,232,192)"/><stop offset="0.14" stop-color="rgb(64,232,192)"/><stop offset="0.142" stop-color="rgb(100,236,208)"/><stop offset="0.158" stop-color="rgb(100,236,208)"/><stop offset="0.16" stop-color="rgb(136,240,200)"/><stop offset="0.218" stop-color="rgb(160,240,208)"/><stop offset="0.286" stop-color="rgb(184,242,216)"/><stop offset="0.34" stop-color="rgb(208,244,228)"/><stop offset="0.4" stop-color="rgb(224,248,236)"/><stop offset="0.457" stop-color="rgb(232,250,240)"/><stop offset="0.5" stop-color="rgb(240,252,244)"/><stop offset="0.6" stop-color="rgb(244,252,240)"/><stop offset="0.8" stop-color="rgb(238,252,232)"/><stop offset="1" stop-color="rgb(232,252,222)"/></linearGradient>
<clipPath id="cl_cc"><rect x="1229.3" y="124.0" width="49.7" height="1027.2"/></clipPath>
<linearGradient id="gu_cn" gradientUnits="userSpaceOnUse" x1="0" y1="239.5" x2="0" y2="1094.0"><stop offset="0" stop-color="rgb(96,232,244)"/><stop offset="0.047" stop-color="rgb(128,236,244)"/><stop offset="0.094" stop-color="rgb(152,238,244)"/><stop offset="0.141" stop-color="rgb(168,240,244)"/><stop offset="0.209" stop-color="rgb(184,244,244)"/><stop offset="0.278" stop-color="rgb(208,244,244)"/><stop offset="0.346" stop-color="rgb(224,246,244)"/><stop offset="0.414" stop-color="rgb(236,248,244)"/><stop offset="0.469" stop-color="rgb(240,250,244)"/><stop offset="0.55" stop-color="rgb(248,250,244)"/><stop offset="0.7" stop-color="rgb(252,252,240)"/><stop offset="1" stop-color="rgb(254,254,236)"/></linearGradient>
<clipPath id="cl_cn"><rect x="1288.5" y="239.5" width="48.5" height="854.5"/></clipPath>
<linearGradient id="gu_co2" gradientUnits="userSpaceOnUse" x1="0" y1="201.0" x2="0" y2="1055.0"><stop offset="0" stop-color="rgb(255,156,152)"/><stop offset="0.057" stop-color="rgb(255,170,164)"/><stop offset="0.116" stop-color="rgb(255,184,176)"/><stop offset="0.174" stop-color="rgb(255,200,192)"/><stop offset="0.227" stop-color="rgb(255,210,202)"/><stop offset="0.254" stop-color="rgb(255,220,212)"/><stop offset="0.323" stop-color="rgb(255,232,224)"/><stop offset="0.391" stop-color="rgb(255,240,232)"/><stop offset="0.459" stop-color="rgb(255,244,238)"/><stop offset="0.514" stop-color="rgb(252,246,240)"/><stop offset="0.6" stop-color="rgb(252,246,242)"/><stop offset="0.7" stop-color="rgb(246,242,244)"/><stop offset="0.8" stop-color="rgb(238,236,248)"/><stop offset="1" stop-color="rgb(228,228,248)"/></linearGradient>
<clipPath id="cl_co2"><rect x="1352.0" y="201.0" width="49.0" height="854.0"/></clipPath>
<linearGradient id="gu_nh" gradientUnits="userSpaceOnUse" x1="0" y1="201.2" x2="0" y2="1054.5"><stop offset="0" stop-color="rgb(168,204,184)"/><stop offset="0.02" stop-color="rgb(168,204,184)"/><stop offset="0.022" stop-color="rgb(196,210,198)"/><stop offset="0.049" stop-color="rgb(196,210,198)"/><stop offset="0.05" stop-color="rgb(200,212,208)"/><stop offset="0.067" stop-color="rgb(200,212,208)"/><stop offset="0.069" stop-color="rgb(192,228,202)"/><stop offset="0.095" stop-color="rgb(196,226,206)"/><stop offset="0.166" stop-color="rgb(212,228,216)"/><stop offset="0.238" stop-color="rgb(228,236,228)"/><stop offset="0.31" stop-color="rgb(240,244,236)"/><stop offset="0.381" stop-color="rgb(248,250,240)"/><stop offset="0.453" stop-color="rgb(252,251,244)"/><stop offset="0.55" stop-color="rgb(249,250,242)"/><stop offset="0.565" stop-color="rgb(238,248,240)"/><stop offset="0.655" stop-color="rgb(230,248,240)"/><stop offset="0.714" stop-color="rgb(214,244,240)"/><stop offset="0.749" stop-color="rgb(200,240,240)"/><stop offset="0.801" stop-color="rgb(176,240,240)"/><stop offset="0.839" stop-color="rgb(164,240,240)"/><stop offset="0.849" stop-color="rgb(160,240,240)"/><stop offset="0.851" stop-color="rgb(200,216,240)"/><stop offset="0.86" stop-color="rgb(200,216,240)"/><stop offset="0.862" stop-color="rgb(140,236,240)"/><stop offset="0.935" stop-color="rgb(128,236,240)"/><stop offset="0.937" stop-color="rgb(100,240,210)"/><stop offset="0.951" stop-color="rgb(100,240,210)"/><stop offset="0.953" stop-color="rgb(72,232,244)"/><stop offset="1" stop-color="rgb(72,232,244)"/></linearGradient>
<clipPath id="cl_nh"><rect x="1586.3" y="201.2" width="50.0" height="853.3"/></clipPath>
</defs>
<g fill="none" stroke-linejoin="round">
<use href="#c_green" stroke="#008000" stroke-width="8"/>
<use href="#c_magenta" stroke="#ff00ff" stroke-width="8"/>
<use href="#c_blue" stroke="#0000ff" stroke-width="8"/>
<use href="#c_red" stroke="#ff0000" stroke-width="8"/>
<use href="#c_black" stroke="#000000" stroke-width="7.2"/>
<use href="#c_green" stroke="url(#gu_oh)" stroke-width="8" opacity="0.45" clip-path="url(#cl_oh)"/>
<use href="#c_green" stroke="url(#gu_ch)" stroke-width="8" opacity="0.45" clip-path="url(#cl_ch)"/>
<use href="#c_green" stroke="url(#gu_co1)" stroke-width="8" opacity="0.45" clip-path="url(#cl_co1)"/>
<use href="#c_green" stroke="url(#gu_cc)" stroke-width="8" opacity="0.45" clip-path="url(#cl_cc)"/>
<use href="#c_green" stroke="url(#gu_cn)" stroke-width="8" opacity="0.45" clip-path="url(#cl_cn)"/>
<use href="#c_green" stroke="url(#gu_co2)" stroke-width="8" opacity="0.45" clip-path="url(#cl_co2)"/>
<use href="#c_green" stroke="url(#gu_nh)" stroke-width="8" opacity="0.45" clip-path="url(#cl_nh)"/>
<use href="#c_magenta" stroke="url(#gu_oh)" stroke-width="8" opacity="0.13" clip-path="url(#cl_oh)"/>
<use href="#c_magenta" stroke="url(#gu_ch)" stroke-width="8" opacity="0.13" clip-path="url(#cl_ch)"/>
<use href="#c_magenta" stroke="url(#gu_co1)" stroke-width="8" opacity="0.13" clip-path="url(#cl_co1)"/>
<use href="#c_magenta" stroke="url(#gu_cc)" stroke-width="8" opacity="0.13" clip-path="url(#cl_cc)"/>
<use href="#c_magenta" stroke="url(#gu_cn)" stroke-width="8" opacity="0.13" clip-path="url(#cl_cn)"/>
<use href="#c_magenta" stroke="url(#gu_co2)" stroke-width="8" opacity="0.13" clip-path="url(#cl_co2)"/>
<use href="#c_magenta" stroke="url(#gu_nh)" stroke-width="8" opacity="0.13" clip-path="url(#cl_nh)"/>
<use href="#c_blue" stroke="url(#gu_oh)" stroke-width="8" opacity="0.25" clip-path="url(#cl_oh)"/>
<use href="#c_blue" stroke="url(#gu_ch)" stroke-width="8" opacity="0.25" clip-path="url(#cl_ch)"/>
<use href="#c_blue" stroke="url(#gu_co1)" stroke-width="8" opacity="0.25" clip-path="url(#cl_co1)"/>
<use href="#c_blue" stroke="url(#gu_cc)" stroke-width="8" opacity="0.25" clip-path="url(#cl_cc)"/>
<use href="#c_blue" stroke="url(#gu_cn)" stroke-width="8" opacity="0.25" clip-path="url(#cl_cn)"/>
<use href="#c_blue" stroke="url(#gu_co2)" stroke-width="8" opacity="0.25" clip-path="url(#cl_co2)"/>
<use href="#c_blue" stroke="url(#gu_nh)" stroke-width="8" opacity="0.25" clip-path="url(#cl_nh)"/>
<use href="#c_red" stroke="url(#gu_oh)" stroke-width="8" opacity="0.42" clip-path="url(#cl_oh)"/>
<use href="#c_red" stroke="url(#gu_ch)" stroke-width="8" opacity="0.42" clip-path="url(#cl_ch)"/>
<use href="#c_red" stroke="url(#gu_co1)" stroke-width="8" opacity="0.42" clip-path="url(#cl_co1)"/>
<use href="#c_red" stroke="url(#gu_cc)" stroke-width="8" opacity="0.42" clip-path="url(#cl_cc)"/>
<use href="#c_red" stroke="url(#gu_cn)" stroke-width="8" opacity="0.42" clip-path="url(#cl_cn)"/>
<use href="#c_red" stroke="url(#gu_co2)" stroke-width="8" opacity="0.42" clip-path="url(#cl_co2)"/>
<use href="#c_red" stroke="url(#gu_nh)" stroke-width="8" opacity="0.42" clip-path="url(#cl_nh)"/>
<use href="#c_black" stroke="url(#gu_oh)" stroke-width="7.2" opacity="0.52" clip-path="url(#cl_oh)"/>
<use href="#c_black" stroke="url(#gu_ch)" stroke-width="7.2" opacity="0.52" clip-path="url(#cl_ch)"/>
<use href="#c_black" stroke="url(#gu_co1)" stroke-width="7.2" opacity="0.52" clip-path="url(#cl_co1)"/>
<use href="#c_black" stroke="url(#gu_cc)" stroke-width="7.2" opacity="0.52" clip-path="url(#cl_cc)"/>
<use href="#c_black" stroke="url(#gu_cn)" stroke-width="7.2" opacity="0.52" clip-path="url(#cl_cn)"/>
<use href="#c_black" stroke="url(#gu_co2)" stroke-width="7.2" opacity="0.52" clip-path="url(#cl_co2)"/>
<use href="#c_black" stroke="url(#gu_nh)" stroke-width="7.2" opacity="0.52" clip-path="url(#cl_nh)"/>
</g>
<rect x="378.5" y="124.0" width="156.8" height="1027.4" fill="none" stroke="#ff0000" stroke-width="3.2" stroke-dasharray="3.2 10"/>
<rect x="593.7" y="201.3" width="77.8" height="950.1" fill="none" stroke="#ff0000" stroke-width="3.2" stroke-dasharray="3.2 10"/>
<rect x="1141.3" y="201.3" width="78.9" height="949.9" fill="none" stroke="#ff0000" stroke-width="3.2" stroke-dasharray="3.2 10"/>
<rect x="1229.3" y="124.0" width="49.7" height="1027.2" fill="none" stroke="#ff0000" stroke-width="3.2" stroke-dasharray="3.2 10"/>
<rect x="1288.5" y="239.5" width="48.5" height="854.5" fill="none" stroke="#ff0000" stroke-width="3.2" stroke-dasharray="3.2 10"/>
<rect x="1352.0" y="201.0" width="49.0" height="854.0" fill="none" stroke="#ff0000" stroke-width="3.2" stroke-dasharray="3.2 10"/>
<rect x="1586.3" y="201.2" width="50.0" height="853.3" fill="none" stroke="#ff0000" stroke-width="3.2" stroke-dasharray="3.2 10"/>
<rect x="152.7" y="28.45" width="1614.6" height="1172.7" fill="none" stroke="#000" stroke-width="5"/>
<line x1="601.8" y1="1177" x2="601.8" y2="1200" stroke="#000" stroke-width="4"/>
<line x1="1049.8" y1="1177" x2="1049.8" y2="1200" stroke="#000" stroke-width="4"/>
<line x1="1497.8" y1="1177" x2="1497.8" y2="1200" stroke="#000" stroke-width="4"/>
<line x1="377.8" y1="1188" x2="377.8" y2="1200" stroke="#000" stroke-width="4"/>
<line x1="825.8" y1="1188" x2="825.8" y2="1200" stroke="#000" stroke-width="4"/>
<line x1="1273.8" y1="1188" x2="1273.8" y2="1200" stroke="#000" stroke-width="4"/>
<line x1="1721.8" y1="1188" x2="1721.8" y2="1200" stroke="#000" stroke-width="4"/>
<text transform="translate(331.85,104.63) scale(0.6508,0.6703)" font-size="100" fill="#ff0000">O-H/N-H</text>
<text transform="translate(574.81,184.30) scale(0.6576,0.6986)" font-size="100" fill="#ff0000">C-H</text>
<text transform="translate(1089.50,201.53) scale(0.6404,0.6704)" font-size="100" fill="#ff0000">C=O</text>
<text transform="translate(1192.97,113.83) scale(0.6461,0.6704)" font-size="100" fill="#ff0000">C=C</text>
<text transform="translate(1317.69,193.01) scale(0.6416,0.6930)" font-size="100" fill="#ff0000">C-O</text>
<text transform="translate(1552.35,191.80) scale(0.6562,0.6667)" font-size="100" fill="#ff0000">N-H</text>
<text transform="translate(1298.49,1150.53) scale(0.6618,0.6704)" font-size="100" fill="#ff0000">C-N</text>
<text transform="translate(177.08,203.95) scale(0.7052,0.7451)" font-size="100" fill="#000">80%</text>
<text transform="translate(174.28,365.66) scale(0.7062,0.7394)" font-size="100" fill="#000">85%</text>
<text transform="translate(173.14,526.36) scale(0.7120,0.7394)" font-size="100" fill="#000">90%</text>
<text transform="translate(175.65,717.76) scale(0.7104,0.7394)" font-size="100" fill="#000">95%</text>
<text transform="translate(170.45,888.66) scale(0.7104,0.7408)" font-size="100" fill="#000">98%</text>
<text transform="translate(66.97,1285.24) scale(0.7653,0.7577)" font-size="100" fill="#000">4000</text>
<text transform="translate(515.05,1285.24) scale(0.7653,0.7577)" font-size="100" fill="#000">3000</text>
<text transform="translate(963.67,1285.24) scale(0.7653,0.7577)" font-size="100" fill="#000">2000</text>
<text transform="translate(1414.52,1285.24) scale(0.7653,0.7577)" font-size="100" fill="#000">1000</text>
<text transform="translate(601.21,1408.20) scale(0.7871,0.8130)" font-size="100" fill="#000">Wavenumber (cm<tspan dy="-30.6" font-size="66">-1</tspan><tspan dy="30.6">)</tspan></text>
<text transform="translate(87.5,890.31) rotate(-90) scale(0.7803,0.7884)" font-size="100" fill="#000">Transmittance (%)</text>
</svg></body></html>
